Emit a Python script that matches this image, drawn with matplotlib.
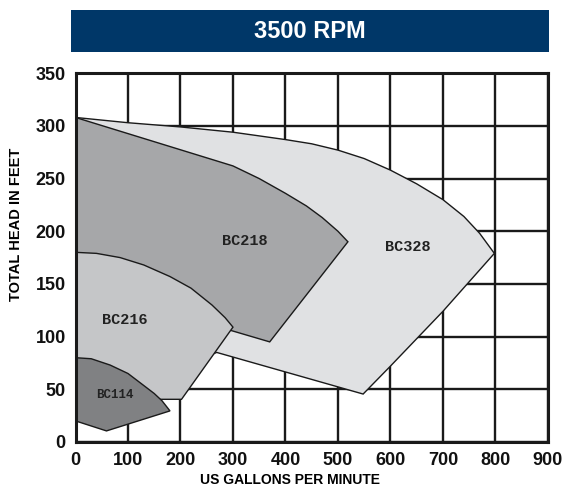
import matplotlib
matplotlib.use('Agg')
import matplotlib.pyplot as plt
from matplotlib.patches import Rectangle

# Pump coverage outlines (gpm, feet)
bc328_flow = [0, 100, 200, 300, 400, 450, 500, 550, 600, 650, 700, 740, 770, 798,
              700, 600, 548, 269, 150, 0]
bc328_head = [308, 303, 299, 294, 287, 283, 277, 269, 258, 245, 230, 214, 198, 179,
              124, 72, 45.5, 85, 60, 60]

bc218_flow = [0, 150, 300, 350, 400, 440, 470, 500, 519, 370, 295, 0]
bc218_head = [308, 285, 262, 250, 236, 224, 213, 200, 190, 95, 106, 150]

bc216_flow = [0, 40, 85, 130, 180, 220, 260, 285, 300, 202, 160, 0]
bc216_head = [180, 179, 175, 168, 157, 146, 130, 118, 109, 40.5, 40.5, 40]

bc114_flow = [0, 30, 66, 100, 129, 150, 165, 180, 59, 0]
bc114_head = [80, 79, 73, 65, 54, 46, 39, 29.5, 10.5, 20]

pumps = ['BC328', 'BC218', 'BC216', 'BC114']
label_flow = [634, 323, 94, 75]
label_head = [185, 191, 116, 45]

x_ticks = list(range(0, 1000, 100))
y_ticks = list(range(0, 400, 50))

fig = plt.figure(figsize=(5.66, 4.88), dpi=100)
ax = fig.add_axes([0.1334, 0.0943, 0.8346, 0.7557])

# grid behind the shapes
for x in x_ticks:
    ax.axvline(x, color='#1a1a1a', linewidth=1.7, zorder=1)
for y in y_ticks:
    ax.axhline(y, color='#1a1a1a', linewidth=1.7, zorder=1)

ax.fill(bc328_flow, bc328_head, facecolor='#e0e1e3', edgecolor='#1a1a1a', linewidth=1.0, zorder=2)
ax.fill(bc218_flow, bc218_head, facecolor='#a6a7a9', edgecolor='#1a1a1a', linewidth=1.0, zorder=3)
ax.fill(bc216_flow, bc216_head, facecolor='#c5c6c8', edgecolor='#1a1a1a', linewidth=1.0, zorder=4)
ax.fill(bc114_flow, bc114_head, facecolor='#808183', edgecolor='#1a1a1a', linewidth=1.0, zorder=5)

for name, fx, hy in zip(pumps, label_flow, label_head):
    size = 9 if name == 'BC114' else 11
    ax.text(fx, hy, name, fontsize=size, fontweight='bold', family='Liberation Mono',
            color='#222222', ha='center', va='center', zorder=6)

ax.set_xlim(0, 900)
ax.set_ylim(0, 350)
ax.set_xticks(x_ticks)
ax.set_yticks(y_ticks)
ax.tick_params(length=0, pad=7)
for lab in ax.get_xticklabels() + ax.get_yticklabels():
    lab.set_family('Liberation Sans')
    lab.set_fontweight('bold')
    lab.set_fontsize(13)
    lab.set_color('#111111')
for s in ax.spines.values():
    s.set_linewidth(2.2)
    s.set_color('#1a1a1a')
    s.set_zorder(7)

ax.set_xlabel('US GALLONS PER MINUTE', fontsize=10, fontweight='bold', family='Liberation Sans')
ax.set_ylabel('TOTAL HEAD IN FEET', fontsize=10.5, fontweight='bold', family='Liberation Sans')
ax.xaxis.set_label_coords(0.454, -0.083)
ax.yaxis.set_label_coords(-0.112, 0.59)

# title bar
fig.patches.append(Rectangle((0.1254, 0.8934), 0.8446, 0.0861, transform=fig.transFigure,
                             facecolor='#003768', edgecolor='none'))
fig.text(0.548, 0.936, '3500 RPM', color='white', fontsize=17, fontweight='bold',
         family='Liberation Sans', ha='center', va='center')

plt.savefig('out.png', dpi=100)
